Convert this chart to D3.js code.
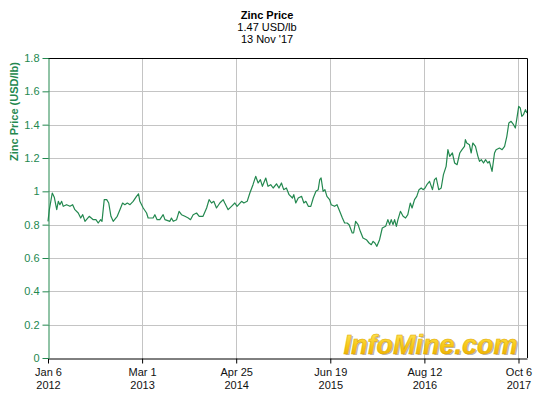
<!DOCTYPE html>
<html lang="en">
<head>
    <meta charset="UTF-8">
    <style>
        body {
            margin: 0;
            padding: 0;
            background: #fff;
            overflow: hidden;
        }

        #chart {
            display: block;
            font-family: Arial, "Liberation Sans", sans-serif;
        }

        .grid line {
            stroke: #c4c4c4;
            stroke-width: 1px;
        }

        .price-line {
            fill: none;
            stroke: #23884f;
            stroke-width: 1.2px;
            stroke-linejoin: round;
        }

        .title {
            font-size: 11px;
            text-anchor: middle;
            fill: #000;
        }
    </style>
</head>
<body>
    <svg id="chart" width="545" height="399"></svg>

    <script src="https://d3js.org/d3.v7.min.js"></script>
    <script>
        // weekly-ish zinc price samples
        const dates = [
            "2012-01-06", "2012-01-12", "2012-01-25", "2012-02-03", "2012-02-14", "2012-02-21", "2012-02-28",
            "2012-03-07", "2012-03-14", "2012-03-29", "2012-04-13", "2012-04-25", "2012-05-05", "2012-05-20",
            "2012-05-31", "2012-06-09", "2012-06-19", "2012-07-08", "2012-07-26", "2012-08-07", "2012-08-17",
            "2012-08-28", "2012-09-03", "2012-09-13", "2012-09-24", "2012-10-03", "2012-10-13", "2012-10-23",
            "2012-11-10", "2012-11-22", "2012-12-04", "2012-12-14", "2012-12-25", "2013-01-06", "2013-01-20",
            "2013-02-04", "2013-02-13", "2013-02-19", "2013-03-06", "2013-03-21", "2013-03-28", "2013-04-19",
            "2013-04-27", "2013-05-07", "2013-05-19", "2013-06-03", "2013-06-11", "2013-07-03", "2013-07-10",
            "2013-07-18", "2013-08-02", "2013-08-13", "2013-08-24", "2013-09-08", "2013-09-23", "2013-10-03",
            "2013-10-15", "2013-10-30", "2013-11-11", "2013-11-28", "2013-12-14", "2013-12-25", "2014-01-05",
            "2014-01-15", "2014-01-27", "2014-02-11", "2014-02-26", "2014-03-05", "2014-03-20", "2014-04-04",
            "2014-04-19", "2014-04-29", "2014-05-19", "2014-05-29", "2014-06-13", "2014-06-25", "2014-07-09",
            "2014-07-21", "2014-08-01", "2014-08-11", "2014-08-20", "2014-09-04", "2014-09-14", "2014-09-26",
            "2014-10-07", "2014-10-22", "2014-11-02", "2014-11-13", "2014-11-23", "2014-12-05", "2014-12-17",
            "2015-01-01", "2015-01-07", "2015-01-16", "2015-01-27", "2015-02-11", "2015-02-21", "2015-03-02",
            "2015-03-13", "2015-03-24", "2015-04-04", "2015-04-16", "2015-04-26", "2015-05-03", "2015-05-09",
            "2015-05-18", "2015-05-26", "2015-06-04", "2015-06-16", "2015-06-23", "2015-07-08", "2015-07-19",
            "2015-07-31", "2015-08-12", "2015-08-22", "2015-09-02", "2015-09-11", "2015-09-25", "2015-10-01",
            "2015-10-10", "2015-10-21", "2015-10-31", "2015-11-12", "2015-11-27", "2015-12-09", "2015-12-19",
            "2015-12-27", "2016-01-04", "2016-01-13", "2016-01-25", "2016-02-06", "2016-02-21", "2016-03-02",
            "2016-03-10", "2016-03-17", "2016-03-25", "2016-04-01", "2016-04-09", "2016-04-16", "2016-04-27",
            "2016-05-09", "2016-05-20", "2016-05-30", "2016-06-10", "2016-06-18", "2016-06-29", "2016-07-09",
            "2016-07-19", "2016-07-29", "2016-08-06", "2016-08-15", "2016-08-23", "2016-09-04", "2016-09-17",
            "2016-09-26", "2016-10-04", "2016-10-15", "2016-10-26", "2016-11-05", "2016-11-17", "2016-11-25",
            "2016-12-03", "2016-12-15", "2016-12-25", "2017-01-05", "2017-01-17", "2017-01-27", "2017-02-07",
            "2017-02-11", "2017-02-17", "2017-03-01", "2017-03-09", "2017-03-16", "2017-03-28", "2017-04-08",
            "2017-04-15", "2017-04-23", "2017-05-03", "2017-05-12", "2017-05-22", "2017-05-29", "2017-06-10",
            "2017-06-21", "2017-06-28", "2017-07-13", "2017-07-25", "2017-08-05", "2017-08-15", "2017-08-24",
            "2017-09-03", "2017-09-14", "2017-09-22", "2017-09-28", "2017-10-07", "2017-10-14", "2017-10-21",
            "2017-10-28", "2017-11-06", "2017-11-13"
        ];

        const prices = [
            0.82, 0.89, 0.99, 0.965, 0.89, 0.94, 0.92,
            0.94, 0.91, 0.92, 0.91, 0.92, 0.89, 0.87,
            0.84, 0.86, 0.82, 0.85, 0.83, 0.83, 0.81,
            0.83, 0.82, 0.95, 0.95, 0.93, 0.85, 0.82,
            0.85, 0.89, 0.93, 0.92, 0.93, 0.92, 0.94,
            0.97, 0.985, 0.94, 0.90, 0.87, 0.84, 0.84,
            0.86, 0.83, 0.83, 0.86, 0.83, 0.82, 0.84,
            0.82, 0.83, 0.88, 0.86, 0.85, 0.84, 0.83,
            0.86, 0.87, 0.85, 0.85, 0.90, 0.95, 0.93,
            0.94, 0.90, 0.93, 0.95, 0.93, 0.89, 0.91,
            0.93, 0.91, 0.94, 0.93, 0.94, 0.99, 1.04,
            1.09, 1.05, 1.07, 1.03, 1.08, 1.03, 1.04,
            1.02, 1.045, 1.02, 1.05, 1.01, 1.02, 0.98,
            0.96, 0.98, 0.93, 0.96, 0.97, 0.93, 0.94,
            0.91, 0.91, 0.96, 1.00, 1.01, 1.07, 1.08,
            1.00, 1.01, 0.97, 0.95, 0.92, 0.91, 0.92,
            0.88, 0.84, 0.81, 0.81, 0.80, 0.75, 0.75,
            0.82, 0.80, 0.76, 0.72, 0.71, 0.69, 0.68,
            0.70, 0.69, 0.67, 0.71, 0.78, 0.79, 0.83,
            0.80, 0.83, 0.80, 0.83, 0.79, 0.83, 0.88,
            0.85, 0.84, 0.86, 0.93, 0.90, 0.95, 0.97,
            1.01, 1.02, 1.01, 1.02, 1.04, 1.06, 1.01,
            1.07, 1.08, 1.01, 1.02, 1.10, 1.15, 1.25,
            1.21, 1.23, 1.17, 1.16, 1.23, 1.25, 1.27,
            1.31, 1.29, 1.28, 1.23, 1.29, 1.27, 1.21,
            1.18, 1.19, 1.17, 1.19, 1.17, 1.18, 1.12,
            1.23, 1.25, 1.26, 1.25, 1.27, 1.33, 1.41,
            1.42, 1.40, 1.38, 1.43, 1.51, 1.50, 1.45,
            1.46, 1.49, 1.47
        ];

        const xTickDates = ["2012-01-06", "2013-03-01", "2014-04-25", "2015-06-19", "2016-08-12", "2017-10-06"];
        const yTicks = [0, 0.2, 0.4, 0.6, 0.8, 1, 1.2, 1.4, 1.6, 1.8];
        const titleLines = ["Zinc Price", "1.47 USD/lb", "13 Nov '17"];

        const green = "#23884f";
        const margin = { left: 48, right: 527, top: 58, bottom: 358 };

        const parse = d3.timeParse("%Y-%m-%d");
        const data = dates.map((d, i) => ({ date: parse(d), value: prices[i] }));
        const tickDates = xTickDates.map(parse);

        const svg = d3.select("#chart");

        const x = d3.scaleTime()
            .domain([parse("2012-01-06"), parse("2017-11-13")])
            .range([margin.left, margin.right]);

        const y = d3.scaleLinear()
            .domain([0, 1.8])
            .range([margin.bottom, margin.top]);

        // grid
        const grid = svg.append("g").attr("class", "grid");
        grid.selectAll(".h")
            .data(yTicks.slice(1))
            .enter().append("line")
            .attr("x1", margin.left).attr("x2", margin.right)
            .attr("y1", d => Math.round(y(d)) + 0.5)
            .attr("y2", d => Math.round(y(d)) + 0.5);
        grid.selectAll(".v")
            .data(tickDates.slice(1))
            .enter().append("line")
            .attr("y1", margin.top).attr("y2", margin.bottom)
            .attr("x1", d => Math.round(x(d)) + 0.5)
            .attr("x2", d => Math.round(x(d)) + 0.5);

        // watermark
        const defs = svg.append("defs");
        const grad = defs.append("linearGradient")
            .attr("id", "gold")
            .attr("x1", 0).attr("y1", 0).attr("x2", 0).attr("y2", 1);
        grad.append("stop").attr("offset", "0%").attr("stop-color", "#ffe866");
        grad.append("stop").attr("offset", "55%").attr("stop-color", "#f7c815");
        grad.append("stop").attr("offset", "100%").attr("stop-color", "#e9a600");

        const wm = svg.append("g")
            .attr("font-size", "27px")
            .attr("font-weight", "bold")
            .attr("font-style", "italic")
            .attr("text-anchor", "middle");
        wm.append("text")
            .attr("x", 432).attr("y", 355)
            .attr("fill", "#b5b5b5")
            .text("InfoMine.com");
        wm.append("text")
            .attr("x", 430.5).attr("y", 353.5)
            .attr("fill", "url(#gold)")
            .attr("stroke", "#e0a800")
            .attr("stroke-width", 0.5)
            .text("InfoMine.com");

        // price line
        const line = d3.line()
            .x(d => x(d.date))
            .y(d => y(d.value));

        svg.append("path")
            .datum(data)
            .attr("class", "price-line")
            .attr("d", line);

        // frame: top and right borders
        svg.append("path")
            .attr("d", `M${margin.left},${margin.top + 0.5}H${margin.right + 0.5}V${margin.bottom}`)
            .attr("fill", "none")
            .attr("stroke", "#000");

        // x axis
        const xAxis = svg.append("g")
            .attr("transform", `translate(0,${margin.bottom + 0.5})`)
            .call(d3.axisBottom(x).tickValues(tickDates).tickSize(5).tickSizeOuter(0).tickFormat(""));
        xAxis.select(".domain").attr("stroke", "#000");
        xAxis.selectAll(".tick line").attr("stroke", "#000");
        xAxis.selectAll(".tick text").remove();
        xAxis.selectAll(".tick").append("text")
            .attr("fill", "#111")
            .attr("font-size", "11px")
            .attr("text-anchor", "middle")
            .each(function (d) {
                const t = d3.select(this);
                t.append("tspan").attr("x", 0).attr("y", 17).text(d3.timeFormat("%b %-d")(d));
                t.append("tspan").attr("x", 0).attr("y", 30).text(d3.timeFormat("%Y")(d));
            });

        // y axis
        const yAxis = svg.append("g")
            .attr("transform", `translate(${margin.left + 0.5},0)`)
            .call(d3.axisLeft(y).tickValues(yTicks).tickSize(6).tickSizeOuter(0).tickPadding(3).tickFormat(d3.format("")));
        yAxis.select(".domain").attr("stroke", green);
        yAxis.selectAll(".tick line").attr("stroke", green);
        yAxis.selectAll(".tick text")
            .attr("fill", green)
            .attr("font-size", "11px")
            .attr("font-family", "Arial, 'Liberation Sans', sans-serif");

        svg.append("text")
            .attr("transform", "translate(18,62) rotate(-90)")
            .attr("text-anchor", "end")
            .attr("fill", green)
            .attr("font-size", "11px")
            .attr("font-weight", "bold")
            .text("Zinc Price (USD/lb)");

        // title block
        svg.selectAll(".title")
            .data(titleLines)
            .enter().append("text")
            .attr("class", "title")
            .attr("x", 267)
            .attr("y", (d, i) => 19 + i * 12)
            .attr("font-weight", (d, i) => i === 0 ? "bold" : "normal")
            .text(d => d);
    </script>
</body>
</html>
